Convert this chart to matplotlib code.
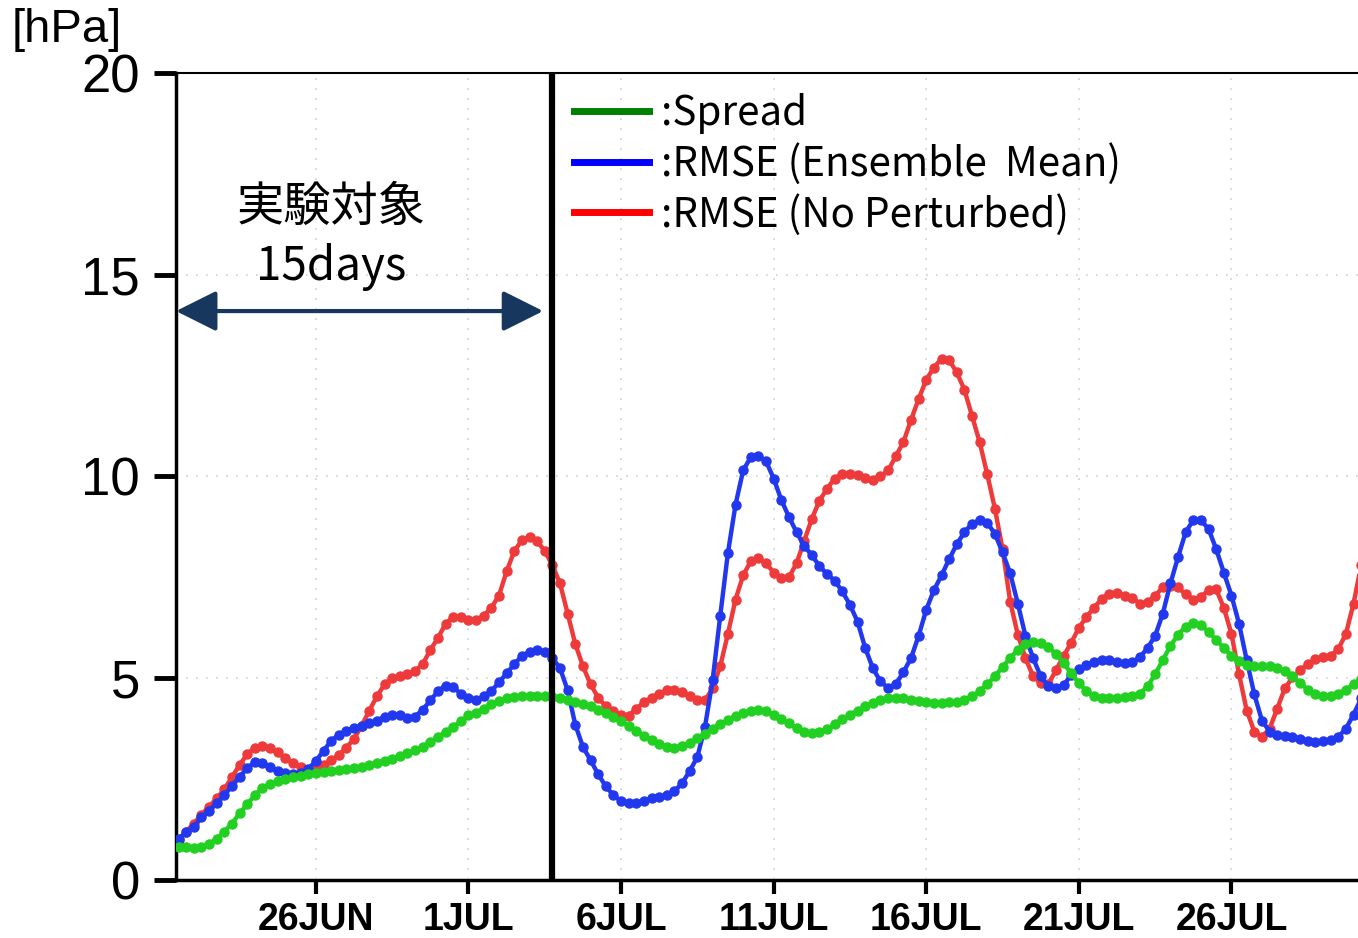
import numpy as np
import pandas as pd
import matplotlib
matplotlib.use("Agg")
import matplotlib.pyplot as plt
from matplotlib import font_manager
from matplotlib.lines import Line2D

# 6-hourly series starting 21 JUN 12Z
spread = [
    0.83, 0.82, 0.80, 0.82, 0.90, 1.02, 1.20, 1.40, 1.65, 1.88,
    2.10, 2.28, 2.38, 2.45, 2.50, 2.55, 2.58, 2.62, 2.65, 2.68,
    2.70, 2.73, 2.75, 2.78, 2.80, 2.84, 2.90, 2.95, 3.00, 3.07,
    3.15, 3.22, 3.30, 3.42, 3.55, 3.66, 3.80, 3.93, 4.08, 4.15,
    4.25, 4.35, 4.43, 4.50, 4.53, 4.55, 4.56, 4.56, 4.55, 4.54,
    4.50, 4.46, 4.42, 4.36, 4.30, 4.22, 4.15, 4.05, 3.93, 3.82,
    3.70, 3.58, 3.48, 3.38, 3.30, 3.28, 3.32, 3.40, 3.52, 3.62,
    3.75, 3.86, 3.96, 4.06, 4.14, 4.19, 4.21, 4.18, 4.10, 4.00,
    3.88, 3.76, 3.68, 3.64, 3.66, 3.74, 3.86, 3.98, 4.10, 4.20,
    4.30, 4.38, 4.45, 4.50, 4.52, 4.50, 4.47, 4.44, 4.41, 4.39,
    4.39, 4.40, 4.42, 4.47, 4.55, 4.68, 4.85, 5.05, 5.28, 5.50,
    5.70, 5.84, 5.90, 5.88, 5.78, 5.60, 5.38, 5.12, 4.88, 4.68,
    4.57, 4.52, 4.52, 4.52, 4.53, 4.55, 4.62, 4.80, 5.10, 5.45,
    5.80, 6.08, 6.28, 6.38, 6.32, 6.15, 5.95, 5.75, 5.56, 5.42,
    5.33, 5.30, 5.30, 5.30, 5.26, 5.18, 5.05, 4.88, 4.72, 4.60,
    4.55, 4.56, 4.62, 4.72, 4.85, 4.98,
]
rmse_mean = [
    1.02, 1.18, 1.32, 1.55, 1.72, 1.90, 2.10, 2.33, 2.55, 2.78,
    2.92, 2.90, 2.80, 2.70, 2.64, 2.62, 2.64, 2.75, 2.95, 3.20,
    3.45, 3.60, 3.70, 3.77, 3.82, 3.88, 3.95, 4.05, 4.10, 4.08,
    4.02, 4.05, 4.22, 4.45, 4.68, 4.82, 4.78, 4.62, 4.50, 4.46,
    4.55, 4.68, 4.90, 5.12, 5.35, 5.55, 5.66, 5.70, 5.64, 5.50,
    5.25, 4.70, 3.85, 3.30, 2.97, 2.62, 2.32, 2.10, 1.96, 1.91,
    1.92, 1.96, 2.02, 2.06, 2.10, 2.20, 2.40, 2.70, 3.05, 3.80,
    4.95, 6.55, 8.10, 9.30, 10.15, 10.48, 10.52, 10.38, 9.95, 9.42,
    9.00, 8.62, 8.28, 8.05, 7.78, 7.58, 7.42, 7.15, 6.82, 6.40,
    5.75, 5.25, 4.92, 4.76, 4.85, 5.15, 5.50, 6.05, 6.70, 7.18,
    7.55, 7.95, 8.32, 8.62, 8.83, 8.92, 8.85, 8.58, 8.12, 7.60,
    6.85, 6.05, 5.50, 5.05, 4.80, 4.75, 4.83, 5.08, 5.22, 5.33,
    5.40, 5.45, 5.45, 5.40, 5.37, 5.40, 5.52, 5.75, 6.05, 6.60,
    7.35, 8.00, 8.62, 8.92, 8.92, 8.70, 8.20, 7.62, 7.05, 6.35,
    5.45, 4.60, 3.95, 3.68, 3.60, 3.57, 3.54, 3.50, 3.45, 3.43,
    3.44, 3.47, 3.55, 3.75, 4.10, 4.50,
]
rmse_noptb = [
    1.00, 1.20, 1.40, 1.62, 1.82, 2.02, 2.25, 2.55, 2.85, 3.12,
    3.28, 3.33, 3.27, 3.16, 3.02, 2.90, 2.80, 2.73, 2.74, 2.85,
    2.97, 3.10, 3.28, 3.50, 3.82, 4.20, 4.55, 4.85, 5.00, 5.06,
    5.10, 5.18, 5.35, 5.70, 6.00, 6.35, 6.52, 6.52, 6.45, 6.45,
    6.55, 6.75, 7.05, 7.65, 8.15, 8.42, 8.50, 8.40, 8.15, 7.80,
    7.35, 6.60, 5.85, 5.30, 4.85, 4.52, 4.30, 4.18, 4.10, 4.07,
    4.25, 4.40, 4.52, 4.62, 4.70, 4.72, 4.65, 4.55, 4.45, 4.45,
    4.75, 5.30, 6.10, 6.95, 7.55, 7.90, 7.97, 7.85, 7.62, 7.48,
    7.50, 7.85, 8.40, 8.95, 9.40, 9.70, 9.95, 10.06, 10.07, 10.04,
    9.96, 9.92, 10.00, 10.15, 10.50, 10.85, 11.40, 11.92, 12.40, 12.70,
    12.92, 12.88, 12.58, 12.15, 11.50, 10.85, 10.05, 9.20, 8.20, 6.90,
    6.08, 5.50, 5.05, 4.88, 4.85, 5.20, 5.55, 5.88, 6.25, 6.52,
    6.75, 6.97, 7.10, 7.12, 7.05, 7.00, 6.85, 6.88, 7.05, 7.25,
    7.28, 7.25, 7.08, 6.95, 7.02, 7.18, 7.20, 6.75, 6.10, 5.10,
    4.20, 3.68, 3.55, 3.75, 4.25, 4.75, 5.02, 5.20, 5.35, 5.47,
    5.52, 5.55, 5.72, 6.10, 6.85, 7.80,
]
tick_days = ["2019-06-26", "2019-07-01", "2019-07-06", "2019-07-11",
             "2019-07-16", "2019-07-21", "2019-07-26"]
tick_labels = ["26JUN", "1JUL", "6JUL", "11JUL", "16JUL", "21JUL", "26JUL"]
legend_labels = [":Spread", ":RMSE (Ensemble  Mean)", ":RMSE (No Perturbed)"]

times = pd.date_range("2019-06-21 12:00", periods=len(spread), freq="6h")


def pick(*names):
    have = {f.name for f in font_manager.fontManager.ttflist}
    return [n for n in names if n in have] or ["DejaVu Sans"]


jp_font = pick("Noto Sans CJK JP", "DejaVu Sans")
tick_font = pick("Liberation Sans Narrow", "Liberation Sans")
num_font = pick("Liberation Sans", "DejaVu Sans")

fig = plt.figure(figsize=(13.58, 9.38), dpi=100)
ax = fig.add_axes([176 / 1358, 58 / 938, 1186 / 1358, 807 / 938])

ax.plot(times, rmse_noptb, "-o", color="#ee3a3a", lw=3.2, ms=6.5, zorder=3)
ax.plot(times, rmse_mean, "-o", color="#2238ee", lw=3.2, ms=6.5, zorder=4)
ax.plot(times, spread, "-o", color="#22d022", lw=3.2, ms=6.5, zorder=5)

# end of the target period
t_split = pd.Timestamp("2019-07-03 17:45")
ax.axvline(t_split, color="black", lw=4.5, zorder=6)

ax.set_ylim(0, 20)
ax.set_xlim(pd.Timestamp("2019-06-21 10:00"), pd.Timestamp("2019-07-30 06:40"))
ax.set_yticks([0, 5, 10, 15, 20])
ax.set_xticks(pd.to_datetime(tick_days))
ax.set_xticklabels(tick_labels)
ax.grid(True, color="#d0d0d0", linestyle=(0, (1, 5)), lw=1.2)

for lab in ax.get_yticklabels():
    lab.set_family(num_font)
    lab.set_fontsize(38)
for lab in ax.get_xticklabels():
    lab.set_family(tick_font)
    lab.set_fontsize(27)
    lab.set_fontweight("bold")
ax.tick_params(axis="y", length=16, width=3.5, pad=10)
ax.tick_params(axis="x", length=10, width=3, pad=6)

for s in ["left", "bottom"]:
    ax.spines[s].set_linewidth(2.5)
ax.spines["right"].set_visible(False)
ax.spines["top"].set_linewidth(1.5)
ax.spines["top"].set_linestyle((0, (3, 1)))

fig.text(12 / 1358, 1 - 30 / 938, "[hPa]", fontsize=34, family=num_font,
         va="center", ha="left")

# arrow for the 15-day target period
ax.annotate("", xy=(t_split - pd.Timedelta(hours=7), 14.1),
            xytext=(pd.Timestamp("2019-06-21 10:00"), 14.1),
            arrowprops=dict(arrowstyle="<|-|>,head_length=1.0,head_width=0.5",
                            lw=3, color="#17375e", shrinkA=0, shrinkB=0,
                            mutation_scale=25), zorder=7)
ax.text(pd.Timestamp("2019-06-26 12:00"), 16.65, "実験対象", family=jp_font,
        fontsize=34, ha="center", va="center")
ax.text(pd.Timestamp("2019-06-26 12:00"), 15.2, "15days", family=jp_font,
        fontsize=33, ha="center", va="center")

handles = [Line2D([], [], color="#008000", lw=5),
           Line2D([], [], color="#0000ff", lw=5),
           Line2D([], [], color="#ff0000", lw=5)]
leg = ax.legend(handles, legend_labels, loc="upper left",
                bbox_to_anchor=(362 / 1186, 1.02), frameon=False,
                handlelength=1.85, handletextpad=0.3, labelspacing=0.22,
                prop={"family": jp_font, "size": 29})

fig.savefig("out.png", dpi=100)
